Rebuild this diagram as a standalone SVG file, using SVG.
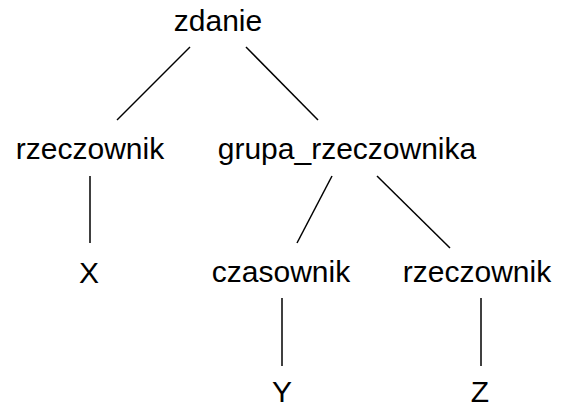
<svg xmlns="http://www.w3.org/2000/svg" width="561" height="407" viewBox="0 0 561 407">
<style>
text{font-family:"Liberation Sans",Arial,sans-serif;font-size:30px;fill:#000;text-anchor:middle}
.e line{stroke:#000;stroke-width:1.5;fill:none}
</style>
<rect width="561" height="407" fill="#fff"/>
<g class="e" id="connectors">
<line x1="190" y1="47" x2="117" y2="120"/>
<line x1="246" y1="47" x2="318" y2="120"/>
<line x1="90" y1="176" x2="90" y2="243"/>
<line x1="332" y1="176" x2="297" y2="243"/>
<line x1="377" y1="176" x2="450" y2="248"/>
<line x1="282" y1="298" x2="282" y2="366"/>
<line x1="481" y1="298" x2="481" y2="366"/>
</g>
<g id="zdanie"><text x="218" y="31">zdanie</text></g>
<g id="rzeczownik1"><text x="90" y="159">rzeczownik</text></g>
<g id="grupa_rzeczownika"><text x="347" y="159">grupa_rzeczownika</text></g>
<g id="X"><text x="89" y="283">X</text></g>
<g id="czasownik"><text x="281" y="282">czasownik</text></g>
<g id="rzeczownik2"><text x="477" y="282">rzeczownik</text></g>
<g id="Y"><text x="282" y="402">Y</text></g>
<g id="Z"><text x="480" y="402">Z</text></g>
</svg>
